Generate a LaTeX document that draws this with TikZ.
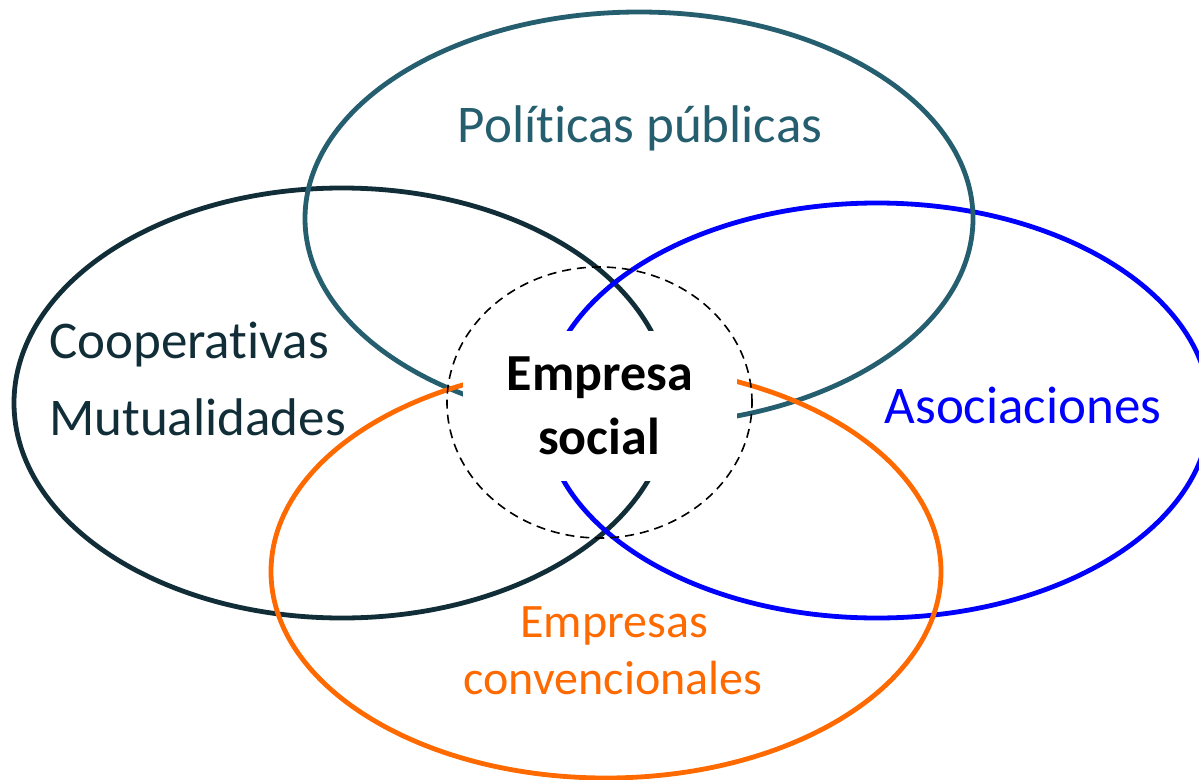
\documentclass[tikz,border=0pt]{standalone}
\usepackage{fontspec}
\setmainfont{Carlito}[Ligatures={NoCommon}]
\definecolor{cteal}{RGB}{37,94,110}
\definecolor{cdark}{RGB}{17,46,56}
\definecolor{cblue}{RGB}{0,0,255}
\definecolor{corange}{RGB}{255,106,0}
\begin{document}
\begin{tikzpicture}[x=1pt,y=-1pt,
  ring/.style={line width=4.8pt},
  lbl/.style={inner sep=0pt,anchor=base,font=\fontsize{53}{64}\selectfont},
  lblsmall/.style={inner sep=0pt,anchor=base,font=\fontsize{48}{58}\selectfont},
  lblbold/.style={inner sep=0pt,anchor=base,font=\fontsize{52}{63}\selectfont\bfseries}]
\useasboundingbox (0,0) rectangle (1199,779);
\clip (0,0) rectangle (1199,779);
\fill[white] (0,0) rectangle (1199,779);
% ellipses
\draw[ring, cdark] (342,403) ellipse [x radius=328pt, y radius=215pt];
\draw[ring, cblue] (877,410.5) ellipse [x radius=333pt, y radius=207.5pt];
\draw[ring, cteal] (639,218.5) ellipse [x radius=334pt, y radius=206.5pt];
\draw[ring, corange] (606,571.6) ellipse [x radius=335pt, y radius=206.4pt];
% white box behind central label
\node[fill=white, inner sep=0pt, minimum width=274pt, minimum height=150pt] (box) at (600,406) {};
\draw[black, line width=1.6pt, dash pattern=on 9pt off 6pt] (599.5,402.5) ellipse [x radius=152.5pt, y radius=135.5pt];
% labels
\node[lbl, text=cteal] (pol) at (640,142) {Políticas públicas};
\node[lbl, text=cdark, anchor=base west] (coop) at (49,358) {Cooperativas};
\node[lbl, text=cdark, anchor=base west] (mut) at (49,435) {Mutualidades};
\node[lbl, text=cblue] (aso) at (1023,423) {Asociaciones};
\node[lblsmall, text=corange] (emp1) at (614,637) {Empresas};
\node[lblsmall, text=corange] (emp2) at (613,694) {convencionales};
\node[lblbold, text=black] (es1) at (600,390) {Empresa};
\node[lblbold, text=black] (es2) at (599,454) {social};
\end{tikzpicture}
\end{document}
